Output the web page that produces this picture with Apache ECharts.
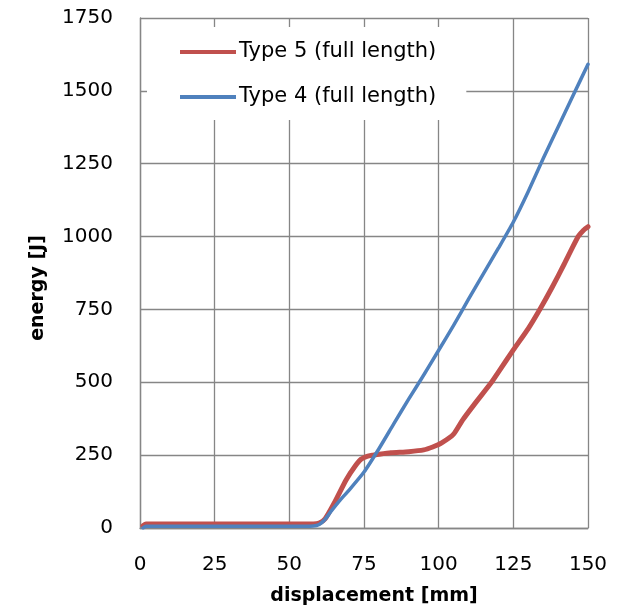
<!DOCTYPE html>
<html>
<head>
<meta charset="utf-8">
<script src="https://cdn.jsdelivr.net/npm/echarts@6/dist/echarts.min.js"></script>
<style>
html,body{margin:0;padding:0;background:#fff;}
#chart{width:624px;height:611px;}
</style>
</head>
<body>
<div id="chart"></div>
<script>
var seriesNames = ['Type 5 (full length)', 'Type 4 (full length)'];
var xTicks = [0, 25, 50, 75, 100, 125, 150];
var yTicks = [0, 250, 500, 750, 1000, 1250, 1500, 1750];

var type5X = [1, 2, 10, 20, 30, 40, 50, 58, 60, 62, 65, 69, 72, 74, 76, 78, 80, 84, 90, 95, 98, 101, 105, 108, 112, 117.7, 120, 125, 130, 134, 138, 142, 146.7, 148.5, 150];
var type5Y = [8, 14, 14, 14, 14, 14, 14, 14, 17, 32, 85, 165, 212, 236, 246, 250, 253, 258, 262, 268, 278, 292, 322, 370, 425, 500, 535, 611, 684, 752, 826, 905, 1000, 1022, 1034];

var type4X = [1, 2, 10, 20, 30, 40, 50, 58, 60, 62, 64, 67, 70, 75, 80, 85, 90, 95, 100, 105, 110, 115, 120, 125, 130, 135, 140, 145, 150];
var type4Y = [0, 6, 6, 6, 6, 6, 6, 7, 12, 30, 58, 96, 130, 192, 272, 358, 443, 525, 610, 695, 785, 873, 960, 1050, 1155, 1268, 1376, 1484, 1591];

function pairs(xs, ys){ var o=[]; for(var i=0;i<xs.length;i++){o.push([xs[i], ys[i]]);} return o; }

var FONT = 'DejaVu Sans';
var chart = echarts.init(document.getElementById('chart'), null, {renderer:'canvas'});
chart.setOption({
  animation:false,
  backgroundColor:'#ffffff',
  grid:{left:140, right:36, top:18, bottom:83, containLabel:false},
  legend:{
    orient:'vertical', left:147, top:27,
    backgroundColor:'#ffffff',
    padding:[13, 30, 11, 33],
    itemWidth:56, itemHeight:4, itemGap:21,
    icon:'rect',
    data:seriesNames,
    textStyle:{fontFamily:FONT, fontSize:21, color:'#000', lineHeight:24, padding:[0,0,0,-2]}
  },
  xAxis:{
    type:'value', min:xTicks[0], max:xTicks[xTicks.length-1], interval:25,
    name:'displacement [mm]', nameLocation:'middle', nameGap:59,
    nameTextStyle:{fontFamily:FONT, fontSize:19, fontWeight:'bold', color:'#000', padding:[0,0,0,20]},
    axisLine:{show:true, lineStyle:{color:'#868686', width:1.3}},
    axisTick:{show:false},
    axisLabel:{fontFamily:FONT, fontSize:20, color:'#000', margin:27},
    splitLine:{show:true, lineStyle:{color:'#868686', width:1.3}}
  },
  yAxis:{
    type:'value', min:yTicks[0], max:yTicks[yTicks.length-1], interval:250,
    name:'energy [J]', nameLocation:'middle', nameGap:92,
    nameTextStyle:{fontFamily:FONT, fontSize:19, fontWeight:'bold', color:'#000', padding:[0,30,0,0]},
    axisLine:{show:true, lineStyle:{color:'#868686', width:1.3}},
    axisTick:{show:false},
    axisLabel:{fontFamily:FONT, fontSize:20, color:'#000', margin:27, formatter:function(v){return String(v);}},
    splitLine:{show:true, lineStyle:{color:'#868686', width:1.3}}
  },
  series:[
    {name:seriesNames[0], type:'line', data:pairs(type5X, type5Y), showSymbol:false, symbol:'none', smooth:0.2, z:2,
     color:'#C0504D', lineStyle:{color:'#C0504D', width:5, cap:'round', join:'round'}},
    {name:seriesNames[1], type:'line', data:pairs(type4X, type4Y), showSymbol:false, symbol:'none', smooth:0.2, z:3,
     color:'#4F81BD', lineStyle:{color:'#4F81BD', width:3.5, cap:'round', join:'round'}}
  ]
});
</script>
</body>
</html>
